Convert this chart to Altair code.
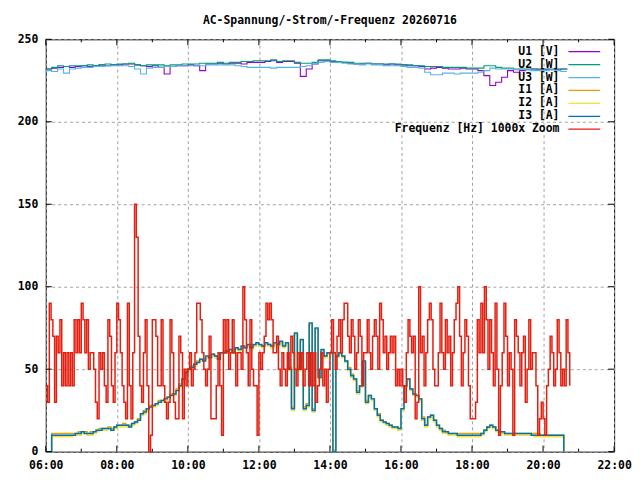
import pandas as pd
import altair as alt

DAY = "2026-07-16"
FONT = "DejaVu Sans Mono"
W, H = 572, 415

# voltages, 10 min steps from 06:00
u1 = [232, 232.5, 233, 233.5, 233, 233.5,
      234, 233.5, 234, 234.5, 234, 234.5,
      234.5, 235, 235, 234.5, 234, 233.5,
      234, 233, 229, 233.5, 234, 234,
      234.5, 234, 231, 235, 235, 235.5,
      235, 235.5, 235.5, 235, 236, 236,
      236, 236.5, 237, 236, 236.5, 236.5,
      235.5, 227.5, 232, 235, 237, 237,
      236.5, 236, 236, 235.5, 235, 235,
      235.5, 235, 235, 234.5, 235, 234.5,
      234.5, 234, 234, 233.5, 232, 232.5,
      233, 232.5, 232, 232, 232.5, 232,
      232, 231, 228, 222, 224, 227,
      231, 230, 231, 231.5, 232, 232,
      232, 231.5, 232, 232, 231.5]
u2 = [232, 233, 234, 233.5, 234, 234,
      234, 234.5, 234, 234.5, 235, 234.5,
      235, 235, 235.5, 234.5, 234, 234.5,
      234.5, 234.5, 234, 234.5, 234.5, 235,
      235, 235, 235.5, 235.5, 235.5, 236,
      235.5, 236, 236, 236.5, 236.5, 237,
      237, 237, 237.5, 236.5, 237, 237,
      236, 235.5, 235.5, 236, 237.5, 237.5,
      237, 236.5, 236, 236, 235.5, 235.5,
      235.5, 235, 235, 235, 235, 235,
      234.5, 234.5, 234, 234, 233.5, 233.5,
      233.5, 233, 233, 233, 233, 232.5,
      232.5, 232.5, 234, 234, 233, 232.5,
      232.5, 232, 232, 232, 232, 231.5,
      231.5, 232, 231.5, 232, 232]
u3 = [231, 230.5, 232, 229.5, 232, 232.5,
      233, 233, 233.5, 233.5, 234, 234,
      234, 234, 233.5, 232, 229, 232.5,
      233, 233, 233.5, 233.5, 234, 234,
      234, 234, 234, 234.5, 234.5, 234.5,
      234.5, 234.5, 234, 233.5, 233, 233,
      233, 233, 232.5, 233, 233, 233,
      233, 233.5, 234, 235.5, 236, 236.5,
      236, 236, 235.5, 235, 235, 234.5,
      235, 234.5, 234.5, 234, 234, 234,
      233.5, 233, 233, 232.5, 230, 228.5,
      228.5, 229.5, 229.5, 229, 229.5, 229.5,
      229.5, 230, 231, 232.5, 232, 232,
      232, 231.5, 232, 231.5, 231, 231,
      231, 231.5, 231, 230.5, 230.5]

# currents, 5 min steps from 06:00
i1 = [0, 0, 11, 11, 11, 11, 11, 11, 11, 11, 11, 12,
      12, 12, 11, 12, 12, 13, 14, 14, 14, 15, 14, 15,
      16, 16, 17, 16, 16, 17, 18, 20, 23, 25, 26, 28,
      28, 29, 31, 31, 32, 33, 35, 35, 38, 41, 44, 48,
      50, 52, 53, 55, 56, 56, 57, 58, 59, 58, 57, 60,
      61, 61, 62, 61, 63, 62, 63, 64, 64, 63, 64, 65,
      64, 64, 65, 65, 63, 65, 65, 66, 64, 65, 51, 27,
      71, 51, 67, 27, 29, 77, 26, 74, 46, 61, 58, 59,
      60, 1, 58, 59, 58, 55, 51, 47, 44, 37, 40, 54,
      31, 34, 32, 26, 23, 19, 18, 17, 16, 15, 15, 14,
      25, 39, 44, 38, 35, 34, 32, 21, 16, 21, 22, 19,
      16, 14, 13, 12, 11, 11, 11, 11, 11, 11, 11, 11,
      11, 11, 11, 11, 13, 15, 16, 15, 13, 12, 12, 11,
      11, 11, 11, 11, 11, 11, 11, 11, 11, 11, 11, 10,
      10, 10, 10, 10, 10, 10, 10, 0]
i2 = [0, 0, 9, 9, 9, 9, 9, 9, 9, 10, 10, 10,
      11, 11, 10, 10, 11, 12, 13, 13, 13, 14, 13, 14,
      15, 15, 15, 15, 15, 16, 17, 19, 22, 23, 25, 27,
      27, 28, 30, 30, 31, 32, 34, 34, 37, 39, 43, 47,
      49, 51, 52, 54, 55, 55, 57, 57, 58, 57, 56, 59,
      60, 60, 61, 60, 62, 61, 63, 63, 64, 62, 64, 65,
      64, 63, 65, 64, 63, 65, 64, 66, 63, 65, 49, 25,
      71, 49, 67, 25, 27, 77, 24, 74, 44, 61, 57, 59,
      59, 0, 57, 59, 57, 54, 49, 45, 43, 35, 39, 54,
      29, 33, 31, 25, 21, 18, 17, 16, 15, 14, 14, 13,
      25, 39, 43, 37, 34, 33, 31, 19, 15, 20, 21, 18,
      15, 13, 11, 11, 10, 10, 10, 9, 9, 9, 9, 9,
      9, 9, 9, 10, 12, 14, 15, 14, 12, 11, 11, 10,
      10, 10, 10, 10, 10, 10, 10, 10, 10, 9, 9, 9,
      9, 9, 9, 9, 9, 9, 9, 0]
i3 = [0, 0, 10, 10, 10, 10, 10, 10, 10, 10, 11, 11,
      12, 11, 11, 11, 12, 13, 13, 14, 14, 14, 13, 15,
      16, 16, 16, 16, 15, 17, 18, 19, 23, 24, 26, 27,
      28, 29, 30, 31, 32, 33, 34, 35, 37, 40, 44, 48,
      50, 51, 53, 54, 56, 55, 58, 57, 59, 58, 56, 60,
      60, 61, 62, 60, 63, 62, 64, 63, 65, 63, 65, 66,
      65, 64, 66, 65, 64, 66, 65, 67, 64, 66, 50, 26,
      72, 50, 68, 26, 28, 78, 25, 75, 45, 62, 58, 60,
      60, 0, 58, 60, 58, 55, 50, 46, 44, 36, 40, 55,
      30, 34, 32, 26, 22, 19, 18, 17, 16, 15, 15, 14,
      26, 40, 44, 38, 35, 34, 32, 20, 16, 21, 22, 19,
      16, 14, 12, 12, 11, 11, 11, 10, 10, 10, 10, 10,
      10, 10, 10, 11, 13, 15, 16, 15, 13, 12, 12, 11,
      11, 11, 11, 11, 11, 11, 11, 11, 10, 10, 10, 10,
      10, 10, 10, 10, 10, 10, 10, 0]

# frequency (deviation x1000), 3 min steps from 06:00
freq = [40, 30, 90, 80, 70, 30, 70, 60, 80, 40, 60, 40, 60, 40, 60, 40, 80, 60, 80, 60,
        90, 80, 60, 80, 50, 60, 60, 50, 30, 20, 60, 50, 60, 40, 30, 80, 70, 40, 30, 60,
        90, 80, 60, 40, 30, 20, 90, 40, 20, 60, 150, 130, 70, 40, 30, 60, 80, 40, 0, 10,
        80, 80, 70, 40, 40, 80, 40, 30, 20, 30, 80, 60, 30, 20, 20, 70, 60, 20, 50, 40,
        50, 60, 40, 50, 60, 90, 90, 80, 60, 50, 40, 50, 70, 20, 20, 20, 40, 60, 40, 10,
        80, 60, 80, 50, 60, 80, 60, 40, 60, 60, 50, 100, 80, 60, 40, 80, 50, 40, 40, 10,
        60, 50, 60, 70, 90, 80, 90, 80, 60, 60, 70, 50, 40, 60, 50, 40, 60, 50, 70, 60,
        50, 40, 60, 50, 60, 40, 50, 60, 40, 60, 40, 60, 30, 40, 50, 60, 40, 50, 30, 50,
        60, 80, 60, 50, 70, 80, 60, 80, 90, 90, 70, 60, 80, 70, 50, 60, 80, 70, 40, 60,
        60, 80, 60, 50, 70, 80, 70, 50, 90, 80, 60, 70, 50, 60, 70, 60, 70, 40, 50, 40,
        50, 40, 30, 60, 80, 70, 60, 70, 20, 30, 100, 60, 70, 40, 60, 80, 90, 80, 50, 40,
        40, 60, 90, 60, 50, 80, 60, 70, 40, 60, 80, 90, 100, 70, 40, 60, 80, 70, 40, 20,
        20, 20, 30, 80, 60, 90, 60, 100, 80, 50, 80, 60, 40, 90, 50, 10, 40, 60, 90, 70,
        40, 60, 50, 10, 80, 70, 60, 40, 60, 70, 30, 50, 80, 50, 60, 60, 40, 10, 20, 30,
        20, 10, 40, 50, 70, 60, 40, 50, 80, 60, 40, 50, 40, 80, 60, 40]

names = ["U1 [V]", "U2 [W]", "U3 [W]", "I1 [A]", "I2 [A]", "I3 [A]",
         "Frequenz [Hz] 1000x Zoom"]
colors = ["#9400d3", "#009e73", "#56b4e9", "#e69f00", "#f0e442", "#0072b2",
          "#e51e10"]
widths = [1.1, 1.1, 1.1, 1.5, 1.5, 1.5, 1.5]
series = [(u1, 10), (u2, 10), (u3, 10), (i1, 5), (i2, 5), (i3, 5), (freq, 3)]

major_hours = list(range(6, 23, 2))
minor_hours = list(range(7, 22, 2))
y_ticks = [0, 50, 100, 150, 200, 250]


def times(n, step):
    idx = pd.date_range(f"{DAY} 06:00", periods=n, freq=f"{step}min")
    return list(idx.strftime("%Y-%m-%dT%H:%M:%S"))


def dt(h):
    return alt.DateTime(year=2026, month=7, date=16, hours=h)


lbl = dict(labelFont=FONT, labelFontSize=11.5, labelFontWeight="bold",
           labelColor="black", gridDash=[3, 3], gridColor="#a0a0a0",
           ticks=False, domain=False, title=None)
x_scale = alt.Scale(domain=[dt(6), dt(22)])
y_scale = alt.Scale(domain=[0, 250], nice=False, zero=False)
x_axis = alt.Axis(values=[dt(h) for h in major_hours], format="%H:%M",
                  labelFlush=False, labelPadding=8, **lbl)
y_axis = alt.Axis(values=y_ticks, labelPadding=8, **lbl)


def X():
    return alt.X("t:T", scale=x_scale, axis=x_axis)


def Y():
    return alt.Y("v:Q", scale=y_scale, axis=y_axis)


layers = []
for (vals, step), col, lw in zip(series, colors, widths):
    df = pd.DataFrame({"t": times(len(vals), step), "v": vals})
    layers.append(
        alt.Chart(df).mark_line(color=col, strokeWidth=lw, interpolate="step-after")
        .encode(x=X(), y=Y())
    )

# inward ticks on all four sides
maj = pd.DataFrame({"t": [f"{DAY}T{h:02d}:00:00" for h in major_hours]})
mnr = pd.DataFrame({"t": [f"{DAY}T{h:02d}:00:00" for h in minor_hours]})
yt = pd.DataFrame({"v": y_ticks})
tick = dict(color="black", strokeWidth=1)
layers += [
    alt.Chart(maj).mark_rule(**tick).encode(x=X(), y=alt.value(H), y2=alt.value(H - 6)),
    alt.Chart(maj).mark_rule(**tick).encode(x=X(), y=alt.value(0), y2=alt.value(6)),
    alt.Chart(mnr).mark_rule(**tick).encode(x=X(), y=alt.value(H), y2=alt.value(H - 3)),
    alt.Chart(mnr).mark_rule(**tick).encode(x=X(), y=alt.value(0), y2=alt.value(3)),
    alt.Chart(yt).mark_rule(**tick).encode(y=Y(), x=alt.value(0), x2=alt.value(6)),
    alt.Chart(yt).mark_rule(**tick).encode(y=Y(), x=alt.value(W - 6), x2=alt.value(W)),
]

# key in the upper right corner, label left of the sample line
for k, (name, col) in enumerate(zip(names, colors)):
    ly = 12.5 + 13 * k
    one = pd.DataFrame({"name": [name]})
    layers.append(
        alt.Chart(one).mark_text(align="right", baseline="middle", font=FONT,
                                 fontSize=11.5, fontWeight="bold", color="black")
        .encode(x=alt.value(517), y=alt.value(ly), text="name:N")
    )
    layers.append(
        alt.Chart(one).mark_rule(color=col, strokeWidth=1.3)
        .encode(x=alt.value(526), x2=alt.value(558), y=alt.value(ly))
    )

chart = (
    alt.layer(*layers)
    .properties(
        width=W,
        height=H,
        title=alt.TitleParams("AC-Spannung/-Strom/-Frequenz 20260716", font=FONT,
                              fontSize=11.5, fontWeight="bold", anchor="middle",
                              offset=7, color="black"),
        autosize=alt.AutoSizeParams(type="none"),
        padding={"left": 38, "top": 30, "right": 18, "bottom": 22},
        background="white",
    )
    .configure_view(stroke="black", strokeWidth=1)
)

chart.save("out.html", embed_options={"renderer": "svg", "actions": False})
